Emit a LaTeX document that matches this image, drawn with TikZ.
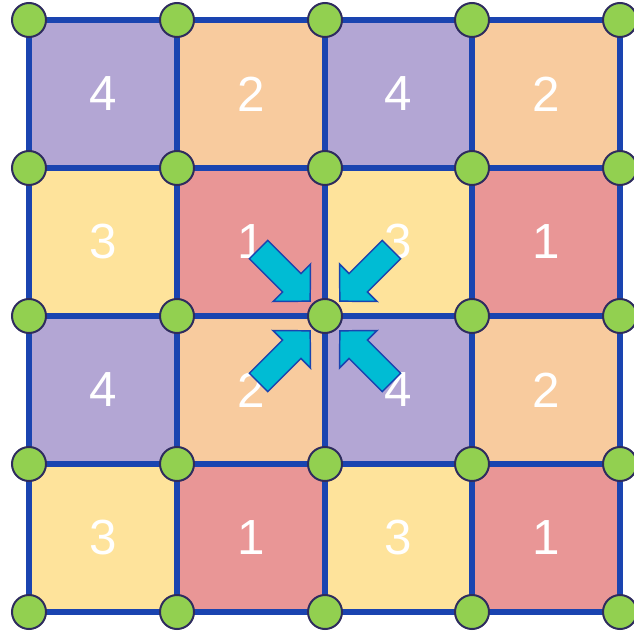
\documentclass[tikz,border=0pt]{standalone}
\usepackage{fontspec}
\setmainfont{Liberation Sans}
\usetikzlibrary{calc}
\definecolor{cpurple}{HTML}{B3A6D4}
\definecolor{corange}{HTML}{F8CB9E}
\definecolor{cyellow}{HTML}{FEE39B}
\definecolor{cred}{HTML}{E99696}
\definecolor{cline}{HTML}{1A44B0}
\definecolor{cgreen}{HTML}{92D050}
\definecolor{cborder}{HTML}{2E2C5E}
\definecolor{ccyan}{HTML}{00BCD4}
\tikzset{
  gridline/.style={draw=cline, line width=4.1pt},
  vertex/.style={circle, fill=cgreen, draw=cborder, line width=1.5pt, minimum size=25.5pt, inner sep=0pt},
  num/.style={text=white, font=\fontsize{37}{40}\selectfont},
  blockarrow/.style={fill=ccyan, draw=cline, line width=1.1pt, line join=miter},
}
\begin{document}
\begin{tikzpicture}[x=0.75pt,y=-0.75pt]
\useasboundingbox (0,0) rectangle (633,634);
% vertex coordinates
\foreach \i/\x in {0/29,1/177,2/325,3/472,4/620}{
  \foreach \j/\y in {0/20,1/168,2/316,3/464,4/612}{
    \coordinate (p\i\j) at (\x,\y);
  }
}
% cells: column/row/number/colour
\foreach \c/\r/\n/\col in {
  0/0/4/cpurple, 1/0/2/corange, 2/0/4/cpurple, 3/0/2/corange,
  0/1/3/cyellow, 1/1/1/cred, 2/1/3/cyellow, 3/1/1/cred,
  0/2/4/cpurple, 1/2/2/corange, 2/2/4/cpurple, 3/2/2/corange,
  0/3/3/cyellow, 1/3/1/cred, 2/3/3/cyellow, 3/3/1/cred}{
  \pgfmathtruncatemacro{\cc}{\c+1}
  \pgfmathtruncatemacro{\rr}{\r+1}
  \fill[\col] (p\c\r) rectangle (p\cc\rr);
  \node[num] (n\c\r) at ($(p\c\r)!0.5!(p\cc\rr)$) {\n};
}
% grid lines
\foreach \k in {0,...,4}{
  \draw[gridline] (p0\k) -- (p4\k);
  \draw[gridline] (p\k0) -- (p\k4);
}
% arrows towards the centre vertex
\foreach \a in {-45,-135,45,135}{
  \begin{scope}[shift={(325,316)}, rotate=\a]
    \draw[blockarrow] (-21,0) -- (-47,-26.5) -- (-47,-13) -- (-94,-13) -- (-94,13) -- (-47,13) -- (-47,26.5) -- cycle;
  \end{scope}
}
% vertices
\foreach \i in {0,...,4}{
  \foreach \j in {0,...,4}{
    \node[vertex] (v\i\j) at (p\i\j) {};
  }
}
\end{tikzpicture}
\end{document}
